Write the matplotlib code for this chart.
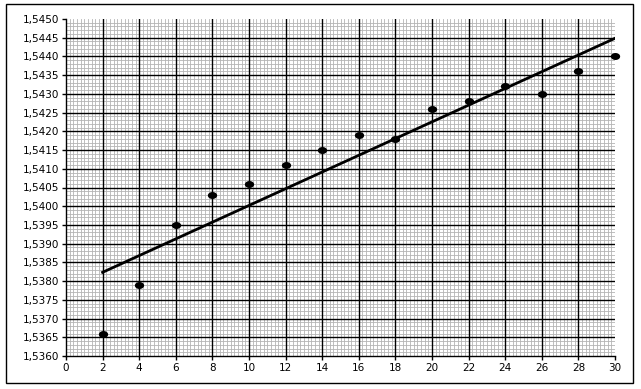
import matplotlib
matplotlib.use("Agg")
import matplotlib.pyplot as plt
import numpy as np
from matplotlib.ticker import MultipleLocator, FixedLocator, FuncFormatter
from matplotlib.patches import Rectangle
from matplotlib.path import Path

x_vals = [2, 4, 6, 8, 10, 12, 14, 16, 18, 20, 22, 24, 26, 28, 30]
y_vals = [1.5366, 1.5379, 1.5395, 1.5403, 1.5406, 1.5411, 1.5415, 1.5419,
          1.5418, 1.5426, 1.5428, 1.5432, 1.5430, 1.5436, 1.5440]

fig = plt.figure(figsize=(6.41, 3.89), dpi=100)
ax = fig.add_axes([66/641, 33/389, 549/641, 337/389])

ax.set_xlim(0, 30)
ax.set_ylim(1.5360, 1.5450)
ax.xaxis.set_major_locator(MultipleLocator(2))
ax.yaxis.set_major_locator(MultipleLocator(0.0005))
xminor = [i * 0.2 for i in range(151) if i % 10 != 0] + [30]
yminor = [1.5360 + i * 0.0001 for i in range(91) if i % 5 != 0] + [1.5450]
ax.xaxis.set_minor_locator(FixedLocator(xminor))
ax.yaxis.set_minor_locator(FixedLocator(yminor))
ax.yaxis.set_major_formatter(FuncFormatter(lambda v, p: f"{v:.4f}".replace(".", ",")))

ax.grid(which="minor", color="#b4b4b4", linewidth=0.6)
ax.set_axisbelow(True)

# major grid drawn above minor grid
xmaj = [v for v in ax.get_xticks() if 0 < v < 30]
ymaj = [v for v in ax.get_yticks() if 1.5360 < v < 1.5450 - 1e-9]
for v in xmaj:
    ax.axvline(v, color="black", linewidth=1.0, zorder=1)
for v in ymaj:
    ax.axhline(v, color="black", linewidth=1.0, zorder=1)

for s in ["top", "right"]:
    ax.spines[s].set_visible(False)
for s in ["left", "bottom"]:
    ax.spines[s].set_linewidth(1.0)

ax.tick_params(which="major", length=3, width=1, labelsize=7.5, pad=2)
ax.tick_params(which="minor", length=0)

t = np.linspace(0, 2 * np.pi, 40)
ell = Path(np.column_stack([np.cos(t), 0.75 * np.sin(t)]), closed=True)
ax.scatter(x_vals, y_vals, s=45, marker=ell, color="black", zorder=4,
           linewidths=0, clip_on=False)

coef = np.polyfit(x_vals, y_vals, 1)
xf = np.array([x_vals[0], x_vals[-1]])
ax.plot(xf, np.polyval(coef, xf), color="black", linewidth=2, zorder=3)

fig.patches.append(Rectangle((6/641, 6/389), 627/641, 379/389, transform=fig.transFigure,
                             fill=False, edgecolor="black", linewidth=1))

fig.savefig("out.png", dpi=100)
